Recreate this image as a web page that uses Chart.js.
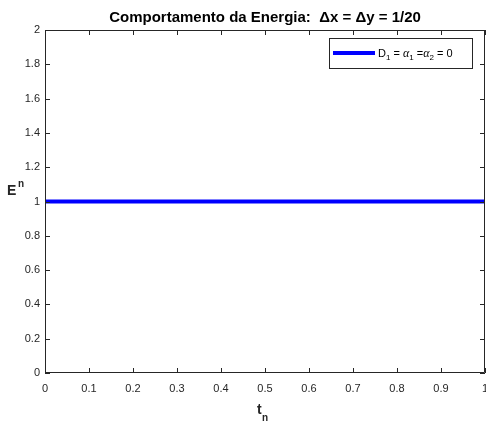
<!DOCTYPE html>
<html>
<head>
<meta charset="utf-8">
<script src="https://cdn.jsdelivr.net/npm/chart.js@4/dist/chart.umd.min.js"></script>
<style>
  html, body { margin: 0; padding: 0; background: #fff; }
  #wrap { width: 486px; height: 422px; }
</style>
</head>
<body>
<div id="wrap"><canvas id="energyChart"></canvas></div>
<script>
// dados
const tn = [0, 0.1, 0.2, 0.3, 0.4, 0.5, 0.6, 0.7, 0.8, 0.9, 1];
const energia = [1, 1, 1, 1, 1, 1, 1, 1, 1, 1, 1];
const xTicks = [0, 0.1, 0.2, 0.3, 0.4, 0.5, 0.6, 0.7, 0.8, 0.9, 1];
const yTicks = [0, 0.2, 0.4, 0.6, 0.8, 1, 1.2, 1.4, 1.6, 1.8, 2];

const axisColor = '#262626';
const fontFam = '"Liberation Sans", Arial, Helvetica, sans-serif';

// desenha caixa, ticks para dentro, titulos e legenda
const matlabStyle = {
  id: 'matlabStyle',
  afterDraw(chart) {
    const ctx = chart.ctx;
    const a = chart.chartArea;
    const xs = chart.scales.x, ys = chart.scales.y;
    ctx.save();
    ctx.strokeStyle = axisColor;
    ctx.lineWidth = 1;
    ctx.beginPath();
    ctx.rect(a.left + 0.5, a.top + 0.5, a.right - a.left - 1, a.bottom - a.top - 1);
    ctx.stroke();
    ctx.beginPath();
    xTicks.forEach(v => {
      const px = Math.round(xs.getPixelForValue(v)) + 0.5;
      ctx.moveTo(px, a.bottom); ctx.lineTo(px, a.bottom - 5);
      ctx.moveTo(px, a.top); ctx.lineTo(px, a.top + 5);
    });
    yTicks.forEach(v => {
      const py = Math.round(ys.getPixelForValue(v)) + 0.5;
      ctx.moveTo(a.left, py); ctx.lineTo(a.left + 5, py);
      ctx.moveTo(a.right, py); ctx.lineTo(a.right - 5, py);
    });
    ctx.stroke();

    // titulo
    ctx.fillStyle = '#000';
    ctx.font = 'bold 15px ' + fontFam;
    ctx.textAlign = 'center';
    ctx.textBaseline = 'alphabetic';
    ctx.fillText('Comportamento da Energia:  \u0394x = \u0394y = 1/20', 265, 22);

    // rotulo x
    ctx.fillStyle = axisColor;
    ctx.textAlign = 'left';
    ctx.font = 'bold 14px ' + fontFam;
    ctx.fillText('t', 257, 414);
    ctx.font = 'bold 10px ' + fontFam;
    ctx.fillText('n', 262, 421);

    // rotulo y
    ctx.font = 'bold 14px ' + fontFam;
    ctx.fillText('E', 7, 195);
    ctx.font = 'bold 10px ' + fontFam;
    ctx.fillText('n', 18, 187);

    // legenda
    const lx = 329, ly = 38, lw = 143, lh = 30;
    ctx.fillStyle = '#fff';
    ctx.fillRect(lx, ly, lw, lh);
    ctx.strokeStyle = axisColor;
    ctx.lineWidth = 1;
    ctx.strokeRect(lx + 0.5, ly + 0.5, lw, lh);
    ctx.strokeStyle = '#0000ff';
    ctx.lineWidth = 4;
    ctx.beginPath();
    ctx.moveTo(lx + 4, ly + 15); ctx.lineTo(lx + 46, ly + 15);
    ctx.stroke();
    ctx.fillStyle = '#000';
    let x = lx + 49;
    const base = ly + 19;
    const parts = [
      ['D', '11px ' + fontFam, 0],
      ['1', '8px ' + fontFam, 3],
      [' = ', '11px ' + fontFam, 0],
      ['\u03b1', 'italic 12px "Liberation Serif", "Times New Roman", serif', 0],
      ['1', '8px ' + fontFam, 3],
      [' =', '11px ' + fontFam, 0],
      ['\u03b1', 'italic 12px "Liberation Serif", "Times New Roman", serif', 0],
      ['2', '8px ' + fontFam, 3],
      [' = 0', '11px ' + fontFam, 0]
    ];
    parts.forEach(p => {
      ctx.font = p[1];
      ctx.fillText(p[0], x, base + p[2]);
      x += ctx.measureText(p[0]).width;
    });
    ctx.restore();
  }
};

new Chart(document.getElementById('energyChart'), {
  type: 'line',
  data: {
    datasets: [{
      label: 'D1 = \u03b11 = \u03b12 = 0',
      data: tn.map((t, i) => ({ x: t, y: energia[i] })),
      borderColor: '#0000ff',
      borderWidth: 4,
      pointRadius: 0,
      fill: false
    }]
  },
  options: {
    responsive: true,
    maintainAspectRatio: false,
    animation: false,
    layout: { padding: { top: 30, right: 1, left: 0, bottom: 0 } },
    plugins: {
      legend: { display: false },
      tooltip: { enabled: false }
    },
    scales: {
      x: {
        type: 'linear',
        min: 0, max: 1,
        afterFit: s => { s.height = 49; s.paddingLeft = 0; s.paddingRight = 0; },
        afterBuildTicks: s => { s.ticks = xTicks.map(v => ({ value: v })); },
        grid: { display: false, drawTicks: false },
        border: { display: false },
        ticks: {
          color: axisColor,
          padding: 9,
          maxRotation: 0,
          font: { family: fontFam, size: 11 },
          callback: v => String(v)
        }
      },
      y: {
        min: 0, max: 2,
        afterFit: s => { s.width = 45; s.paddingTop = 0; s.paddingBottom = 0; },
        afterBuildTicks: s => { s.ticks = yTicks.map(v => ({ value: v })); },
        grid: { display: false, drawTicks: false },
        border: { display: false },
        ticks: {
          color: axisColor,
          padding: 5,
          font: { family: fontFam, size: 11 },
          callback: v => String(v)
        }
      }
    }
  },
  plugins: [matlabStyle]
});
</script>
</body>
</html>
